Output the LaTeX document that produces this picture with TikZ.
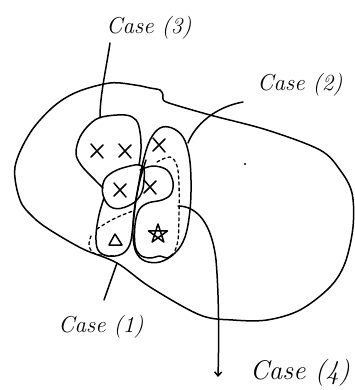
\documentclass[tikz,border=0pt]{standalone}
\usetikzlibrary{arrows.meta}
\begin{document}
\begin{tikzpicture}[x=1pt,y=-1pt, line cap=round, line join=round,
  pen/.style={line width=1.5pt},
  dashpen/.style={line width=1.3pt, dash pattern=on 3pt off 3pt},
  lbl/.style={font=\fontsize{23}{26}\selectfont\itshape, inner sep=0pt},
  biglbl/.style={font=\fontsize{27}{30}\selectfont\itshape, inner sep=0pt},
  xx/.pic={\draw[pen] (-6,-7) -- (6,7); \draw[pen] (-6,6) -- (6,-6);}]
\useasboundingbox (0,0) rectangle (355,390);
% big outline
\draw[pen] plot[smooth cycle, tension=0.55] coordinates {(77,92) (110,83) (135,85) (150,88) (160,90) (163,95) (163,99) (169,103) (210,115) (267,130) (320,150) (340,170) (352,193) (353,227) (345,263) (330,287) (300,310) (267,320) (233,320) (200,315) (150,287) (117,263) (83,249) (50,230) (33,217) (20,200) (15,167) (30,133) (53,107)};
% case (3) blob
\draw[pen] plot[smooth, tension=0.6] coordinates {(103,188) (93,178) (81,165) (76,153) (80,137) (90,124) (102,117) (125,115) (136,120) (140,132) (141,149) (139,165)};
% case (1) small blob
\draw[pen] plot[smooth cycle, tension=0.7] coordinates {(104,198) (103,184) (110,174) (126,167) (142,166) (144,180) (140,196) (128,206) (113,208)};
% middle blob and star region
\draw[pen] plot[smooth, tension=0.6] coordinates {(140,170) (153,166) (167,170) (173,182) (171,194) (162,200) (148,203) (139,210) (135,225) (135,245) (140,255) (150,258) (160,256) (167,258) (173,254)};
% case (2) ellipse
\draw[pen] plot[smooth cycle, tension=0.6] coordinates {(160,128) (172,128) (183,137) (189,155) (191,180) (190,210) (185,237) (175,253) (160,262) (145,261) (136,252) (133,235) (134,212) (138,188) (143,162) (150,140)};
% lower-left region
\draw[pen] plot[smooth, tension=0.6] coordinates {(104,198) (99,215) (96,235) (98,250) (108,256) (122,254) (130,244) (133,225) (136,200) (140,180) (146,160)};
% dashed lines
\draw[dashpen] plot[smooth, tension=0.6] coordinates {(97,229) (108,222) (120,216) (133,211)};
\draw[dashpen] plot[smooth, tension=0.6] coordinates {(91,236) (89,244) (92,252) (100,255) (115,256)};
\draw[dashpen] plot[smooth, tension=0.6] coordinates {(157,162) (170,157) (177,166) (179,185) (179,215) (178,240) (174,253)};
% crosses
\pic at (97,151) {xx};
\pic at (125,151) {xx};
\pic at (120,190) {xx};
\pic at (150,187) {xx};
\pic at (159,145) {xx};
% star
\draw[pen] (158,234) +(-90:10) -- +(54:10) -- +(198:10) -- +(-18:10) -- +(126:10) -- cycle;
% triangle
\draw[pen] (115,234) -- (109,245) -- (122,245) -- cycle;
% dot
\fill (245,164) circle (1.1pt);
% labels
\node[lbl] (l3) at (149,28) {Case (3)};
\node[lbl] (l2) at (300,85) {Case (2)};
\node[lbl] (l1) at (101,327) {Case (1)};
\node[biglbl] (l4) at (300,373) {Case (4)};
% leader ends
\coordinate (c3a) at (110,43);
\coordinate (c3b) at (100,117);
\coordinate (c2a) at (243,102);
\coordinate (c2b) at (188,143);
\coordinate (c1a) at (117,263);
\coordinate (c1b) at (104,300);
\coordinate (c4a) at (178,206);
\coordinate (c4b) at (218,377);
\draw[pen] (c3a) .. controls (106,70) and (100,95) .. (c3b);
\draw[pen] (c2a) .. controls (215,107) and (195,125) .. (c2b);
\draw[pen] (c1a) -- (c1b);
\draw[pen, -{Straight Barb[length=4pt,width=7pt]}] (c4a) .. controls (198,206) and (212,225) .. (216,260) .. controls (219,295) and (219,340) .. (c4b);
\end{tikzpicture}
\end{document}
